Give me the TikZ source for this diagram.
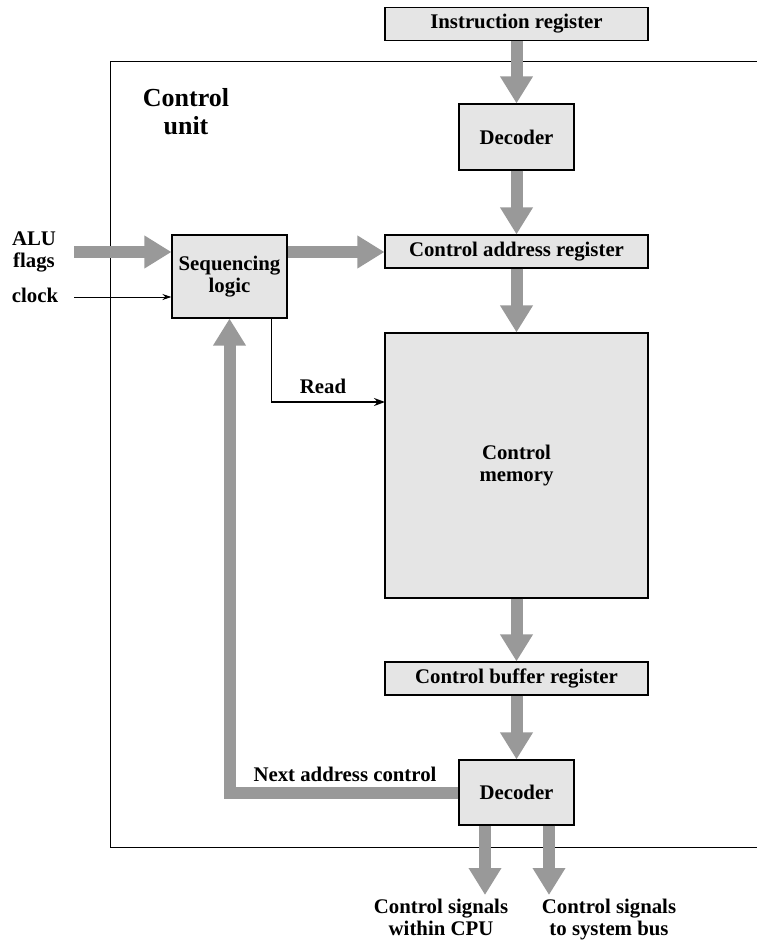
\documentclass[tikz,border=0pt]{standalone}
\usepackage{fontspec}
\setmainfont{Liberation Serif}
\usetikzlibrary{arrows.meta,calc}
\begin{document}
\begin{tikzpicture}[x=1pt,y=-1pt,
  box/.style={draw=black,line width=1.1pt,fill=gray!20,inner sep=0pt,font=\bfseries\fontsize{20.8}{22}\selectfont,align=center},
  garrow/.style={draw=gray!80,line width=12pt,line join=miter,-{Triangle[width=31pt,length=27pt]}},
  thin/.style={draw=black,line width=0.9pt,-{Stealth[length=9pt,width=6pt]}},
  lbl/.style={font=\bfseries\fontsize{20.8}{22}\selectfont,align=center,inner sep=0pt}
]
\useasboundingbox (0,0) rectangle (756,941);
% outer control unit box
\draw[line width=0.9pt] (757,61) -- (110,61) -- (110,847) -- (757,847);
\node[lbl,font=\bfseries\fontsize{26}{28}\selectfont,anchor=base] (cu) at (186,135) {Control\\unit};

\node[box,minimum width=263pt,minimum height=33pt] (ir) at (516.5,24) {Instruction register};
\node[box,minimum width=115pt,minimum height=66pt] (dec1) at (516.5,137) {Decoder};
\node[box,minimum width=263pt,minimum height=33pt] (car) at (516.5,251.5) {Control address register};
\node[box,minimum width=115pt,minimum height=83pt] (sl) at (229.5,276.5) {Sequencing\\logic};
\node[box,minimum width=263pt,minimum height=265pt] (cm) at (516.5,465.5) {Control\\memory};
\node[box,minimum width=263pt,minimum height=33pt] (cbr) at (516.5,678.5) {Control buffer register};
\node[box,minimum width=115pt,minimum height=65pt] (dec2) at (516.5,792.5) {Decoder};

% inputs
\node[lbl,anchor=base] (alu) at (34,267) {ALU\\flags};
\node[lbl,anchor=base] (clk) at (35,302) {clock};
\coordinate (alustart) at (74,252);
\coordinate (clkstart) at (74,297);
\draw[garrow] (alustart) -- (sl.west |- alustart);
\draw[thin] (clkstart) -- (sl.west |- clkstart);

% main flow
\draw[garrow] (ir.south) -- (dec1.north);
\draw[garrow] (dec1.south) -- (car.north);
\draw[garrow] (sl.east |- alustart) -- (car.west |- alustart);
\draw[garrow] (car.south) -- (cm.north);
\draw[garrow] (cm.south) -- (cbr.north);
\draw[garrow] (cbr.south) -- (dec2.north);

% read
\coordinate (rd) at ($(sl.south east)+(-16,0)$);
\coordinate (rdend) at (385,402);
\draw[draw=black,line width=1.6pt,line join=miter,-{Stealth[length=11pt,width=8pt]}] (rd) |- (rdend);
\node[lbl,anchor=base] (readlbl) at (323,393) {Read};

% next address control
\draw[garrow] (dec2.west) -| (sl.south);
\node[lbl,anchor=base] (nac) at (345,781) {Next address control};

% outputs
\coordinate (o1) at (485,895);
\coordinate (o2) at (549,895);
\draw[garrow] (dec2.south -| o1) -- (o1);
\draw[garrow] (dec2.south -| o2) -- (o2);
\node[lbl,anchor=base] (t1) at (441,935) {Control signals\\within CPU};
\node[lbl,anchor=base] (t2) at (609,935) {Control signals\\to system bus};
\end{tikzpicture}
\end{document}
